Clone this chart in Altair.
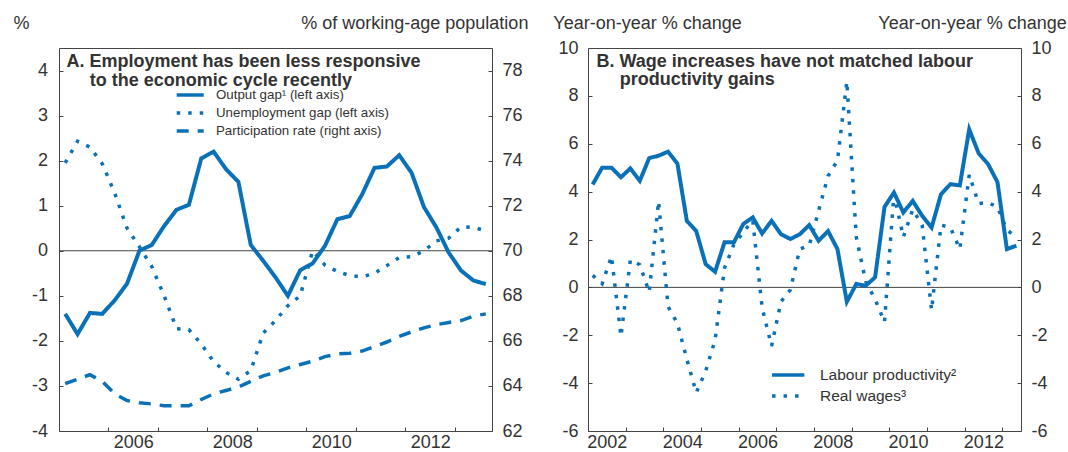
import altair as alt
import pandas as pd

BLUE = "#0A71B8"
INK = "#333333"
FRAME = "#444444"
FONT = "Liberation Sans"

# ---------------- Panel A: quarterly, 2005Q1 - 2013Q3 ----------------
quarters_a = [f"{y}Q{q}" for y in range(2005, 2014) for q in (1, 2, 3, 4)][:35]
output_gap = [-1.40, -1.85, -1.38, -1.40, -1.10, -0.73, 0.00, 0.13, 0.55, 0.91,
              1.02, 2.05, 2.20, 1.81, 1.53, 0.13, -0.22, -0.59, -1.00, -0.43,
              -0.28, 0.11, 0.70, 0.77, 1.25, 1.84, 1.87, 2.12, 1.73, 0.97,
              0.52, -0.04, -0.44, -0.66, -0.74]
unemployment_gap = [1.95, 2.43, 2.30, 1.93, 1.28, 0.50, 0.09, -0.35, -1.00, -1.73,
                    -1.75, -2.07, -2.46, -2.70, -2.85, -2.66, -1.83, -1.55, -1.22, -1.00,
                    0.00, -0.32, -0.46, -0.55, -0.58, -0.50, -0.33, -0.15, -0.13, 0.00,
                    0.22, 0.28, 0.53, 0.52, 0.44]
participation_rate = [64.10, 64.30, 64.50, 64.20, 63.65, 63.35, 63.25, 63.20, 63.12, 63.12,
                      63.12, 63.40, 63.65, 63.80, 63.95, 64.20, 64.45, 64.60, 64.80, 64.95,
                      65.10, 65.30, 65.42, 65.45, 65.55, 65.75, 65.95, 66.20, 66.40, 66.58,
                      66.72, 66.82, 66.90, 67.10, 67.20]

# ---------------- Panel B: quarterly, 2002Q1 - 2013Q2 ----------------
quarters_b = [f"{y}Q{q}" for y in range(2002, 2014) for q in (1, 2, 3, 4)][:46]
labour_productivity = [4.30, 5.00, 5.00, 4.60, 4.97, 4.45, 5.40, 5.50, 5.67, 5.17,
                       2.78, 2.35, 0.97, 0.65, 1.88, 1.88, 2.65, 2.92, 2.25, 2.78,
                       2.22, 2.02, 2.22, 2.60, 1.95, 2.35, 1.60, -0.60, 0.14, 0.07,
                       0.42, 3.36, 3.96, 3.13, 3.61, 2.99, 2.50, 3.89, 4.31, 4.26,
                       6.60, 5.60, 5.15, 4.40, 1.60, 1.74]
real_wages = [0.50, 0.15, 1.30, -2.05, 1.15, 0.95, -0.20, 3.60, -0.80, -1.50,
              -3.00, -4.40, -3.50, -2.20, 0.80, 1.80, 2.30, 2.80, -0.85, -2.45,
              -0.60, -0.10, 1.60, 1.75, 3.20, 4.65, 5.30, 8.60, 2.10, 0.25,
              -0.50, -1.45, 3.90, 2.10, 3.25, 2.60, -0.95, 2.60, 2.50, 1.60,
              4.70, 3.50, 3.55, 3.35, 2.40, 2.10]

series_a = ["Output gap¹ (left axis)", "Unemployment gap (left axis)",
            "Participation rate (right axis)"]
series_b = ["Labour productivity²", "Real wages³"]

years_a = list(range(2006, 2014))
years_b = list(range(2002, 2014))
ticks_a_left = list(range(-4, 5))
ticks_a_right = list(range(62, 79, 2))
ticks_b = list(range(-6, 11, 2))

titles_a = ["A. Employment has been less responsive", "to the economic cycle recently"]
titles_b = ["B. Wage increases have not matched labour", "productivity gains"]


def qpos(q):
    y, n = q.split("Q")
    return int(y) + (int(n) - 1) * 0.25 + 0.125


def frame(quarters, values, name):
    return pd.DataFrame({"t": [qpos(q) for q in quarters], "v": values, "series": name})


W, H = 433, 383

x_a = alt.X("t:Q", title=None,
            scale=alt.Scale(domain=[2005, 2013.75], nice=False, zero=False),
            axis=alt.Axis(values=years_a,
                          labelExpr="datum.value % 2 == 0 ? '' + datum.value : ''",
                          labelOffset=24.8, labelFlush=False, labelOverlap=False,
                          labelBaseline="alphabetic", labelPadding=16.5))
x_b = alt.X("t:Q", title=None,
            scale=alt.Scale(domain=[2002, 2013.5], nice=False, zero=False),
            axis=alt.Axis(values=years_b,
                          labelExpr="datum.value % 2 == 0 ? '' + datum.value : ''",
                          labelOffset=18.85, labelFlush=False, labelOverlap=False,
                          labelBaseline="alphabetic", labelPadding=16.5))

y_a_left = alt.Y("v:Q", title="%",
                 scale=alt.Scale(domain=[-4, 4.5], nice=False, zero=False),
                 axis=alt.Axis(orient="left", values=ticks_a_left,
                               labelExpr="'' + datum.value", labelPadding=11.5,
                               titleAngle=0, titleAlign="left", titleBaseline="alphabetic",
                               titleX=-50, titleY=-19.5))
y_a_right = alt.Y("v:Q", title="% of working-age population",
                  scale=alt.Scale(domain=[62, 79], nice=False, zero=False),
                  axis=alt.Axis(orient="right", values=ticks_a_right, labelPadding=10,
                                titleAngle=0, titleAlign="right", titleBaseline="alphabetic",
                                titleX=39.9, titleY=-19.5))
y_b_left = alt.Y("v:Q", title="Year-on-year % change",
                 scale=alt.Scale(domain=[-6, 10], nice=False, zero=False),
                 axis=alt.Axis(orient="left", values=ticks_b,
                               labelExpr="'' + datum.value", labelPadding=10,
                               titleAngle=0, titleAlign="left", titleBaseline="alphabetic",
                               titleX=-39.2, titleY=-19.5))
y_b_right = alt.Y("v:Q", title="Year-on-year % change",
                  scale=alt.Scale(domain=[-6, 10], nice=False, zero=False),
                  axis=alt.Axis(orient="right", values=ticks_b,
                                labelExpr="datum.value < 0 ? '' + datum.value : '\u00a0' + datum.value",
                                labelPadding=10,
                                titleAngle=0, titleAlign="right", titleBaseline="alphabetic",
                                titleX=49.3, titleY=-19.5))

dash_a = alt.Scale(domain=series_a, range=[[1, 0], [3.5, 8], [12, 9]])
dash_b = alt.Scale(domain=series_b, range=[[1, 0], [3.5, 8]])

legend_a = alt.Legend(title=None, orient="none", legendX=115.7, legendY=38,
                      symbolType="stroke", symbolSize=729, symbolStrokeWidth=3.5,
                      symbolStrokeColor=BLUE, symbolOffset=0, padding=0, rowPadding=0,
                      clipHeight=18, labelFont=FONT, labelFontSize=13.3, labelColor=INK,
                      labelOffset=10.3, labelLimit=400)
legend_b = alt.Legend(title=None, orient="none", legendX=182.2, legendY=316.75,
                      symbolType="stroke", symbolSize=1043, symbolStrokeWidth=3.5,
                      symbolStrokeColor=BLUE, symbolOffset=0, padding=0, rowPadding=0,
                      clipHeight=20.5, labelFont=FONT, labelFontSize=15.5, labelColor=INK,
                      labelOffset=13.8, labelLimit=400)


def line(df, x, y, width, dash_scale, legend):
    return alt.Chart(df).mark_line(color=BLUE, strokeWidth=width, strokeJoin="miter").encode(
        x=x, y=y,
        strokeDash=alt.StrokeDash("series:N", scale=dash_scale, legend=legend))


def heading(text, x, y):
    return alt.Chart(alt.Data(values=[{"label": text}])).mark_text(
        align="left", baseline="alphabetic", font=FONT, fontSize=18,
        fontWeight="bold", color=INK).encode(
        x=alt.value(x), y=alt.value(y), text="label:N")


def zero_rule(y):
    return alt.Chart(alt.Data(values=[{"v": 0}])).mark_rule(
        color=FRAME, strokeWidth=1).encode(y=y)


# Panel A
left_a = alt.layer(
    zero_rule(y_a_left),
    line(frame(quarters_a, output_gap, series_a[0]), x_a, y_a_left, 4, dash_a, legend_a),
    line(frame(quarters_a, unemployment_gap, series_a[1]), x_a, y_a_left, 3.5, dash_a, legend_a),
    heading(titles_a[0], 7.4, 19.2),
    heading(titles_a[1], 30.8, 37.5),
)
right_a = line(frame(quarters_a, participation_rate, series_a[2]), x_a, y_a_right, 3.5,
               dash_a, legend_a)
panel_a = alt.layer(left_a, right_a).resolve_scale(y="independent").properties(
    width=W, height=H)

# Panel B
right_b = zero_rule(y_b_right)
left_b = alt.layer(
    line(frame(quarters_b, labour_productivity, series_b[0]), x_b, y_b_left, 4, dash_b, legend_b),
    line(frame(quarters_b, real_wages, series_b[1]), x_b, y_b_left, 3.5, dash_b, legend_b),
    heading(titles_b[0], 8.5, 19.2),
    heading(titles_b[1], 31.8, 37.0),
)
panel_b = alt.layer(right_b, left_b).resolve_scale(y="independent").properties(
    width=W, height=H)

chart = alt.hconcat(panel_a, panel_b, spacing=96, bounds="flush").resolve_scale(
    strokeDash="independent"
).resolve_legend(
    strokeDash="independent"
).properties(
    padding={"left": 12, "top": 14, "right": 0, "bottom": 0},
    background="white",
).configure_view(
    stroke=FRAME, strokeWidth=1
).configure_axis(
    domain=False, grid=False, ticks=True, tickSize=4, tickColor=FRAME, tickWidth=1,
    offset=-4, labelFont=FONT, labelFontSize=18, labelColor=INK,
    titleFont=FONT, titleFontSize=18, titleColor=INK, titleFontWeight="normal",
)

chart.save("out.html", embed_options={"renderer": "svg", "actions": False})
